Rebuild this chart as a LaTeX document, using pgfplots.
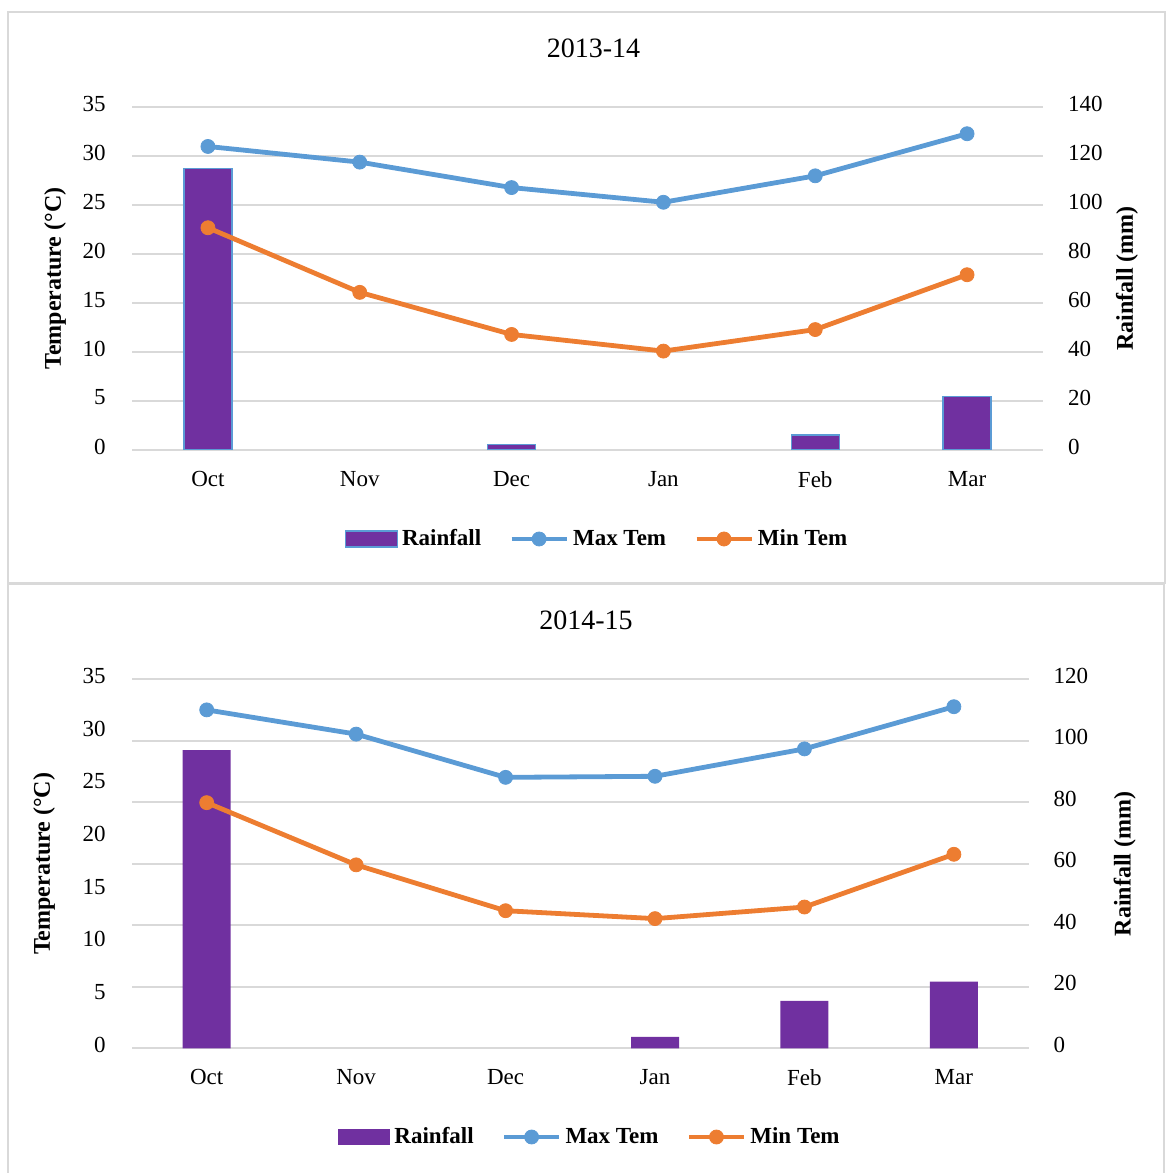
\documentclass[border=0pt]{standalone}
\usepackage{fontspec}
\setmainfont{Liberation Serif}
\usepackage{pgfplots}
\pgfplotsset{compat=1.18}

\definecolor{rainpurple}{HTML}{7030A0}
\definecolor{maxblue}{HTML}{5B9BD5}
\definecolor{minorange}{HTML}{ED7D31}
\definecolor{gridgray}{HTML}{D9D9D9}

\pgfplotsset{
  base/.style={
    scale only axis,
    xmin=-0.5, xmax=5.5,
    ymin=0,
    axis line style={draw=none},
    major tick length=0pt,
    /pgf/number format/assume math mode=true,
    tick label style={font=\fontsize{11.5}{13}\selectfont},
    label style={font=\bfseries\fontsize{12}{14}\selectfont},
  },
  rainaxis/.style={
    base,
    axis y line*=right,
    xtick={0,...,5},
    xticklabels={Oct,Nov,Dec,Jan,Feb,Mar},
    xticklabel style={font=\fontsize{11.5}{13}\selectfont, yshift=-7pt},
    ymajorgrids,
    grid style={gridgray, line width=0.8pt},
    yticklabel style={xshift=9pt, yshift=1.75pt},
    ylabel={Rainfall (mm)},
  },
  tempaxis/.style={
    base,
    axis y line*=left,
    xtick=\empty,
    ymax=35, ytick={0,5,...,35},
    yticklabel style={xshift=-9.7pt, yshift=1.75pt},
    ylabel={Temperature (°C)},
    title style={font=\fontsize{14}{16}\selectfont, at={(0.5,1)}, anchor=center},
    legend columns=3,
    legend style={draw=none, fill=none, anchor=center,
      font=\bfseries\fontsize{11.5}{13}\selectfont,
      /tikz/every even column/.append style={column sep=12pt}},
  },
  serieslegend/.style={
    legend image code/.code={
      \draw[mark repeat=2, mark phase=2, ##1]
        plot coordinates {(0pt,0pt) (13.75pt,0pt) (27.5pt,0pt)};}
  },
  maxline/.style={serieslegend, maxblue, line width=2.4pt,
    mark=*, mark size=3.5pt, mark options={line width=0.4pt, fill=maxblue}},
  minline/.style={serieslegend, minorange, line width=2.4pt,
    mark=*, mark size=3.5pt, mark options={line width=0.4pt, fill=minorange}},
}

\begin{document}
\begin{tikzpicture}
\useasboundingbox (0pt,0pt) rectangle (583pt,586.5pt);

% panel frames
\draw[gridgray, line width=0.8pt] (4pt,295pt) rectangle (582.5pt,580.5pt);
\draw[gridgray, line width=0.8pt] (4pt,-3pt) -- (4pt,294.5pt) -- (582pt,294.5pt) -- (582pt,-3pt);

% ---------------- 2013-14 ----------------
\begin{axis}[rainaxis, at={(66pt,361.5pt)}, anchor=south west,
  width=455.5pt, height=171.35pt,
  ymax=140, ytick={0,20,...,140},
  ylabel style={at={(axis description cs:1,0.5)}, anchor=center, yshift=-42pt}]
\addplot[ybar, bar width=24pt, fill=rainpurple, draw=maxblue, line width=0.6pt]
  coordinates {(0,115.1) (2,2.4) (4,6.1) (5,21.7)};
\end{axis}

\begin{axis}[tempaxis, at={(66pt,361.5pt)}, anchor=south west,
  width=455.5pt, height=171.35pt,
  title={2013-14}, title style={xshift=3pt, yshift=23.7pt},
  ylabel style={at={(axis description cs:0,0.5)}, anchor=center, yshift=38.5pt},
  legend style={at={(0.5115,-0.2597)}}]
\addlegendimage{legend image code/.code={
  \draw[fill=rainpurple, draw=maxblue, line width=0.6pt] (0pt,-4pt) rectangle (26pt,4pt);}}
\addlegendentry{Rainfall}
\addplot[maxline] coordinates {(0,31.0) (1,29.4) (2,26.8) (3,25.3) (4,28.0) (5,32.3)};
\addlegendentry{Max Tem}
\addplot[minline] coordinates {(0,22.7) (1,16.1) (2,11.8) (3,10.1) (4,12.3) (5,17.9)};
\addlegendentry{Min Tem}
\end{axis}

% ---------------- 2014-15 ----------------
\begin{axis}[rainaxis, at={(66pt,62.35pt)}, anchor=south west,
  width=448.3pt, height=184.5pt,
  ymax=120, ytick={0,20,...,120},
  ylabel style={at={(axis description cs:1,0.5)}, anchor=center, yshift=-48pt}]
\addplot[ybar, bar width=24pt, fill=rainpurple, draw=none]
  coordinates {(0,97.0) (3,3.7) (4,15.4) (5,21.7)};
\end{axis}

\begin{axis}[tempaxis, at={(66pt,62.35pt)}, anchor=south west,
  width=448.3pt, height=184.5pt,
  title={2014-15}, title style={xshift=2.85pt, yshift=23.6pt},
  ylabel style={at={(axis description cs:0,0.5)}, anchor=center, yshift=44pt},
  legend style={at={(0.512,-0.2404)}}]
\addlegendimage{legend image code/.code={
  \draw[fill=rainpurple, draw=none] (0pt,-4pt) rectangle (26pt,4pt);}}
\addlegendentry{Rainfall}
\addplot[maxline] coordinates {(0,32.1) (1,29.8) (2,25.7) (3,25.8) (4,28.4) (5,32.4)};
\addlegendentry{Max Tem}
\addplot[minline] coordinates {(0,23.3) (1,17.4) (2,13.05) (3,12.3) (4,13.4) (5,18.4)};
\addlegendentry{Min Tem}
\end{axis}
\end{tikzpicture}
\end{document}
